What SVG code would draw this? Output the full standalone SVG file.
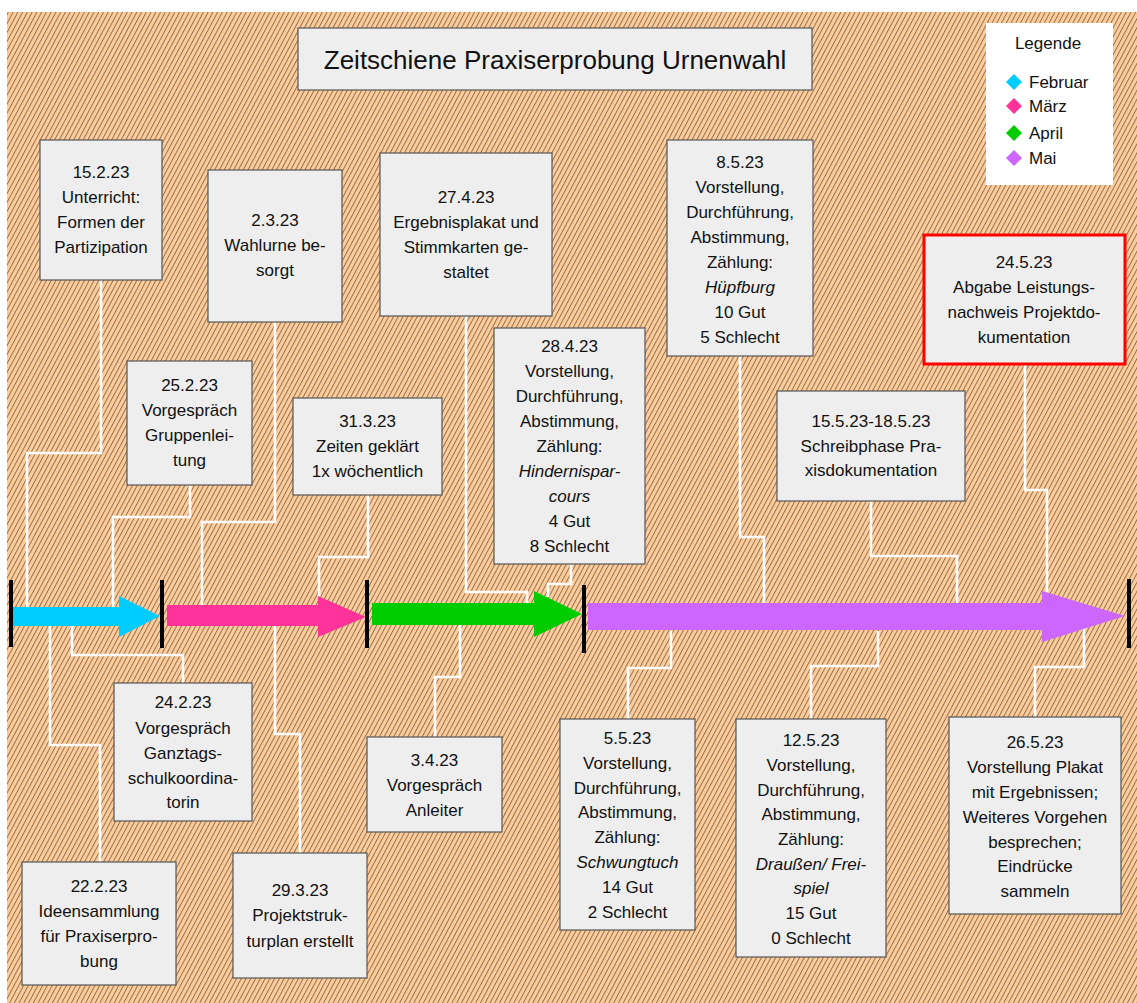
<svg xmlns="http://www.w3.org/2000/svg" width="1137" height="1003" viewBox="0 0 1137 1003">
<defs>
<pattern id="hatch" width="4.2" height="4.2" patternUnits="userSpaceOnUse" patternTransform="rotate(28)">
<rect width="4.2" height="4.2" fill="#FFCC99"/>
<line x1="0.5" y1="0" x2="0.5" y2="4.2" stroke="#6a5643" stroke-width="0.75"/>
</pattern>
<style>
.box{fill:#EEEEEE;stroke:#555;stroke-width:1.2}
.t{font-family:"Liberation Sans",Arial,sans-serif;font-size:17px;fill:#111;text-anchor:middle}
.i{font-style:italic}
.c{fill:none;stroke:#fff;stroke-width:2.6}
.tick{stroke:#000;stroke-width:4}
</style>
</defs>
<rect x="0" y="0" width="1137" height="1003" fill="#fff"/>
<rect x="7" y="12" width="1130" height="991" fill="url(#hatch)"/>

<g id="connectors">
<polyline class="c" points="101,280 101,453 27,453 27,607"/>
<polyline class="c" points="190,485 190,517 113,517 113,607"/>
<polyline class="c" points="275,322 275,522 202,522 202,605"/>
<polyline class="c" points="368,495 368,557 319,557 319,597"/>
<polyline class="c" points="466,316 466,592 527,592 527,603"/>
<polyline class="c" points="571,564 571,584 548,584 548,597"/>
<polyline class="c" points="740,356 740,537 764,537 764,603"/>
<polyline class="c" points="871,501 871,556 957,556 957,603"/>
<polyline class="c" points="1025,365 1025,490 1047,490 1047,592"/>
<polyline class="c" points="50,626 50,745 100,745 100,862"/>
<polyline class="c" points="72,626 72,655 183,655 183,683"/>
<polyline class="c" points="275,626 275,734 300,734 300,853"/>
<polyline class="c" points="460,625 460,677 435,677 435,737"/>
<polyline class="c" points="671,631 671,668 628,668 628,719"/>
<polyline class="c" points="878,631 878,666 811,666 811,719"/>
<polyline class="c" points="1084,628 1084,667 1035,667 1035,717"/>
</g>

<g id="timeline">
<polygon fill="#00CCFF" points="13,607 119,607 119,596 160,616 119,637 119,626 13,626"/>
<polygon fill="#FF3399" points="167,605 318,605 318,596 366,617 318,637 318,626 167,626"/>
<polygon fill="#00CC00" points="372,603 534,603 534,591 582,614 534,637 534,625 372,625"/>
<polygon fill="#CC66FF" points="588,603 1042,603 1042,591 1125,616 1042,642 1042,630 588,630"/>
<line class="tick" x1="11" y1="580" x2="11" y2="647"/>
<line class="tick" x1="162" y1="580" x2="162" y2="648"/>
<line class="tick" x1="367" y1="580" x2="367" y2="648"/>
<line class="tick" x1="584" y1="585" x2="584" y2="653"/>
<line class="tick" x1="1129" y1="579" x2="1129" y2="648"/>
</g>

<g id="title">
<rect class="box" x="298" y="28" width="514" height="62"/>
<text class="t" x="555" y="69" style="font-size:26px">Zeitschiene Praxiserprobung Urnenwahl</text>
</g>

<g id="legend">
<rect x="986" y="23" width="127" height="162" fill="#fff"/>
<text class="t" x="1048" y="49">Legende</text>
<polygon fill="#00CCFF" points="1014,74 1022,82 1014,90 1006,82"/>
<polygon fill="#FF3399" points="1014,98 1022,106 1014,114 1006,106"/>
<polygon fill="#00CC00" points="1014,125 1022,133 1014,141 1006,133"/>
<polygon fill="#CC66FF" points="1014,150 1022,158 1014,166 1006,158"/>
<text class="t" x="1029" y="88" style="text-anchor:start">Februar</text>
<text class="t" x="1029" y="112" style="text-anchor:start">März</text>
<text class="t" x="1029" y="139" style="text-anchor:start">April</text>
<text class="t" x="1029" y="164" style="text-anchor:start">Mai</text>
</g>

<g id="n15-2">
<rect class="box" x="40" y="140" width="122" height="140"/>
<text class="t" x="101" y="178">15.2.23</text>
<text class="t" x="101" y="203">Unterricht:</text>
<text class="t" x="101" y="228">Formen der</text>
<text class="t" x="101" y="253">Partizipation</text>
</g>
<g id="n2-3">
<rect class="box" x="208" y="170" width="134" height="152"/>
<text class="t" x="275" y="226">2.3.23</text>
<text class="t" x="275" y="251">Wahlurne be-</text>
<text class="t" x="275" y="276">sorgt</text>
</g>
<g id="n27-4">
<rect class="box" x="380" y="153" width="172" height="163"/>
<text class="t" x="466" y="203">27.4.23</text>
<text class="t" x="466" y="228">Ergebnisplakat und</text>
<text class="t" x="466" y="253">Stimmkarten ge-</text>
<text class="t" x="466" y="278">staltet</text>
</g>
<g id="n8-5">
<rect class="box" x="667" y="140" width="146" height="216"/>
<text class="t" x="740" y="168">8.5.23</text>
<text class="t" x="740" y="193">Vorstellung,</text>
<text class="t" x="740" y="218">Durchführung,</text>
<text class="t" x="740" y="243">Abstimmung,</text>
<text class="t" x="740" y="268">Zählung:</text>
<text class="t i" x="740" y="293">Hüpfburg</text>
<text class="t" x="740" y="318">10 Gut</text>
<text class="t" x="740" y="343">5 Schlecht</text>
</g>
<g id="n24-5">
<rect class="box" x="924" y="235" width="201" height="129" style="stroke:#FF0000;stroke-width:3"/>
<text class="t" x="1024" y="268">24.5.23</text>
<text class="t" x="1024" y="293">Abgabe Leistungs-</text>
<text class="t" x="1024" y="318">nachweis Projektdo-</text>
<text class="t" x="1024" y="343">kumentation</text>
</g>
<g id="n25-2">
<rect class="box" x="127" y="361" width="125" height="124"/>
<text class="t" x="189.5" y="391">25.2.23</text>
<text class="t" x="189.5" y="416">Vorgespräch</text>
<text class="t" x="189.5" y="441">Gruppenlei-</text>
<text class="t" x="189.5" y="466">tung</text>
</g>
<g id="n31-3">
<rect class="box" x="293" y="398" width="149" height="97"/>
<text class="t" x="367.5" y="427">31.3.23</text>
<text class="t" x="367.5" y="452">Zeiten geklärt</text>
<text class="t" x="367.5" y="477">1x wöchentlich</text>
</g>
<g id="n28-4">
<rect class="box" x="494" y="328" width="151" height="236"/>
<text class="t" x="569.5" y="352">28.4.23</text>
<text class="t" x="569.5" y="377">Vorstellung,</text>
<text class="t" x="569.5" y="402">Durchführung,</text>
<text class="t" x="569.5" y="427">Abstimmung,</text>
<text class="t" x="569.5" y="452">Zählung:</text>
<text class="t i" x="569.5" y="477">Hindernispar-</text>
<text class="t i" x="569.5" y="502">cours</text>
<text class="t" x="569.5" y="527">4 Gut</text>
<text class="t" x="569.5" y="552">8 Schlecht</text>
</g>
<g id="n15-5">
<rect class="box" x="777" y="391" width="188" height="110"/>
<text class="t" x="871" y="427">15.5.23-18.5.23</text>
<text class="t" x="871" y="452">Schreibphase Pra-</text>
<text class="t" x="871" y="476">xisdokumentation</text>
</g>
<g id="n24-2">
<rect class="box" x="114" y="683" width="138" height="138"/>
<text class="t" x="183" y="708">24.2.23</text>
<text class="t" x="183" y="734">Vorgespräch</text>
<text class="t" x="183" y="759">Ganztags-</text>
<text class="t" x="183" y="784">schulkoordina-</text>
<text class="t" x="183" y="808">torin</text>
</g>
<g id="n22-2">
<rect class="box" x="22" y="862" width="154" height="123"/>
<text class="t" x="99" y="892">22.2.23</text>
<text class="t" x="99" y="917">Ideensammlung</text>
<text class="t" x="99" y="942">für Praxiserpro-</text>
<text class="t" x="99" y="967">bung</text>
</g>
<g id="n29-3">
<rect class="box" x="233" y="853" width="134" height="125"/>
<text class="t" x="300" y="896">29.3.23</text>
<text class="t" x="300" y="921">Projektstruk-</text>
<text class="t" x="300" y="947">turplan erstellt</text>
</g>
<g id="n3-4">
<rect class="box" x="367" y="737" width="135" height="95"/>
<text class="t" x="434.5" y="766">3.4.23</text>
<text class="t" x="434.5" y="791">Vorgespräch</text>
<text class="t" x="434.5" y="816">Anleiter</text>
</g>
<g id="n5-5">
<rect class="box" x="560" y="719" width="135" height="211"/>
<text class="t" x="627.5" y="744">5.5.23</text>
<text class="t" x="627.5" y="769">Vorstellung,</text>
<text class="t" x="627.5" y="794">Durchführung,</text>
<text class="t" x="627.5" y="818">Abstimmung,</text>
<text class="t" x="627.5" y="843">Zählung:</text>
<text class="t i" x="627.5" y="868">Schwungtuch</text>
<text class="t" x="627.5" y="893">14 Gut</text>
<text class="t" x="627.5" y="918">2 Schlecht</text>
</g>
<g id="n12-5">
<rect class="box" x="736" y="719" width="150" height="238"/>
<text class="t" x="811" y="746">12.5.23</text>
<text class="t" x="811" y="771">Vorstellung,</text>
<text class="t" x="811" y="796">Durchführung,</text>
<text class="t" x="811" y="820">Abstimmung,</text>
<text class="t" x="811" y="845">Zählung:</text>
<text class="t i" x="811" y="870">Draußen/ Frei-</text>
<text class="t i" x="811" y="894">spiel</text>
<text class="t" x="811" y="919">15 Gut</text>
<text class="t" x="811" y="944">0 Schlecht</text>
</g>
<g id="n26-5">
<rect class="box" x="949" y="717" width="172" height="197"/>
<text class="t" x="1035" y="748">26.5.23</text>
<text class="t" x="1035" y="773">Vorstellung Plakat</text>
<text class="t" x="1035" y="798">mit Ergebnissen;</text>
<text class="t" x="1035" y="823">Weiteres Vorgehen</text>
<text class="t" x="1035" y="848">besprechen;</text>
<text class="t" x="1035" y="872">Eindrücke</text>
<text class="t" x="1035" y="897">sammeln</text>
</g>
</svg>
